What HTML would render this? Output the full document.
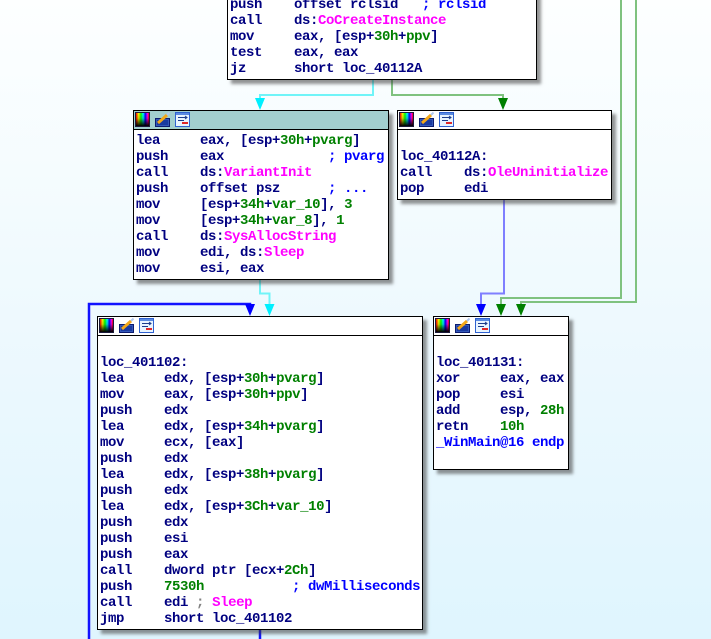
<!DOCTYPE html>
<html><head><meta charset="utf-8">
<style>
html,body{margin:0;padding:0;}
body{width:711px;height:639px;overflow:hidden;position:relative;
 background:linear-gradient(to bottom,#fdffff 0%,#eef9fe 50%,#dff5fe 100%);
 font-family:"Liberation Mono","DejaVu Sans Mono",monospace;}
.blk{position:absolute;box-sizing:border-box;border:1px solid #000;background:#fff;
 box-shadow:4px 4px 3px rgba(60,60,60,0.55);z-index:2;}
.hdr{position:absolute;left:0;top:0;right:0;height:18px;border-bottom:1px solid #000;background:#fff;}
.hdr.sel{background:#a2cfcf;}
.ic{position:absolute;top:1px;width:15px;height:15px;}
.i1{left:1px;box-sizing:border-box;border:1px solid #1a1a3a;
 background:linear-gradient(to bottom,rgba(0,0,0,0) 0%,rgba(0,0,0,0.15) 40%,#000 100%),
 linear-gradient(to right,#f00,#ff0 20%,#0f0 38%,#0ff 55%,#00f 72%,#f0f 88%,#f00);}
.i2{left:21px;}
.i3{left:41px;}
pre{position:absolute;left:2px;margin:0;font-family:"Liberation Mono","DejaVu Sans Mono",monospace;
 font-weight:bold;font-size:14px;letter-spacing:-0.4px;line-height:16px;color:#000080;white-space:pre;}
.g{color:#008000}.m{color:#ff00ff}.c{color:#0000ff}.gr{color:#808080}
svg.edges{position:absolute;left:0;top:0;z-index:1;}
</style></head><body>

<svg class="edges" width="711" height="639" viewBox="0 0 711 639">
 <polyline points="373,80 373,95 260,95 260,100" fill="none" stroke="#70f4f8" stroke-width="2"/>
 <polygon points="255,98 265,98 260,110" fill="#00f0ff"/>
 <polyline points="392,80 392,95 503,95 503,100" fill="none" stroke="#7fc27f" stroke-width="2"/>
 <polygon points="498,98 508,98 503,110" fill="#008000"/>
 <polyline points="260,280 260,293.5 269.5,293.5 269.5,306" fill="none" stroke="#70f4f8" stroke-width="2"/>
 <polygon points="264.5,304 274.5,304 269.5,316" fill="#00f0ff"/>
 <polyline points="260,630 260,645" fill="none" stroke="#1212ff" stroke-width="2.5"/>
 <polyline points="89,645 89,304 250,304 250,306" fill="none" stroke="#1212ff" stroke-width="2.5"/>
 <polygon points="245,304 255,304 250,316" fill="#0000ff"/>
 <polyline points="504,200 504,293.5 481,293.5 481,306" fill="none" stroke="#7f7fff" stroke-width="2"/>
 <polygon points="476,304 486,304 481,316" fill="#0000ff"/>
 <polyline points="621,-5 621,298 501,298 501,306" fill="none" stroke="#7fc27f" stroke-width="2"/>
 <polygon points="496,304 506,304 501,316" fill="#008000"/>
 <polyline points="636,-5 636,302 521,302 521,306" fill="none" stroke="#7fc27f" stroke-width="2"/>
 <polygon points="516,304 526,304 521,316" fill="#008000"/>
</svg>

<!-- B1 -->
<div class="blk" style="left:227px;top:-40px;width:310px;height:120px;">
<pre style="top:36px;">push    offset rclsid   <span class="c">; rclsid</span>
call    ds:<span class="m">CoCreateInstance</span>
mov     eax, [esp+<span class="g">30h</span>+<span class="g">ppv</span>]
test    eax, eax
jz      short loc_40112A</pre>
</div>

<!-- B2 -->
<div class="blk" style="left:133px;top:110px;width:256px;height:170px;">
<div class="hdr sel">
 <div class="ic i1"></div>
 <svg class="ic i2" width="15" height="15" viewBox="0 0 15 15"><rect x="0.5" y="6.5" width="14" height="8" fill="#3458b8" stroke="#0c1c70"/><rect x="2" y="8" width="11" height="5" fill="#1a3aa0"/><line x1="3" y1="11" x2="12" y2="3" stroke="#f4a818" stroke-width="3"/><line x1="12" y1="3" x2="14.5" y2="0.5" stroke="#b0c8f0" stroke-width="2"/></svg>
 <svg class="ic i3" width="15" height="15" viewBox="0 0 15 15"><rect x="0.5" y="0.5" width="14" height="14" fill="#e8f4ff" stroke="#2f62d0"/><rect x="1" y="1" width="13" height="2" fill="#5a8ae0"/><path d="M3 5.5H12M10 4L12 5.5 10 7M3 8.5H9" stroke="#1c3c8c" fill="none"/><rect x="7" y="10" width="6" height="2" fill="#e02828"/></svg>
</div>
<pre style="top:22px;">lea     eax, [esp+<span class="g">30h</span>+<span class="g">pvarg</span>]
push    eax             <span class="c">; pvarg</span>
call    ds:<span class="m">VariantInit</span>
push    offset psz      <span class="c">; ...</span>
mov     [esp+<span class="g">34h</span>+<span class="g">var_10</span>], <span class="g">3</span>
mov     [esp+<span class="g">34h</span>+<span class="g">var_8</span>], <span class="g">1</span>
call    ds:<span class="m">SysAllocString</span>
mov     edi, ds:<span class="m">Sleep</span>
mov     esi, eax</pre>
</div>

<!-- B3 -->
<div class="blk" style="left:397px;top:110px;width:215px;height:90px;">
<div class="hdr">
 <div class="ic i1"></div>
 <svg class="ic i2" width="15" height="15" viewBox="0 0 15 15"><rect x="0.5" y="6.5" width="14" height="8" fill="#3458b8" stroke="#0c1c70"/><rect x="2" y="8" width="11" height="5" fill="#1a3aa0"/><line x1="3" y1="11" x2="12" y2="3" stroke="#f4a818" stroke-width="3"/><line x1="12" y1="3" x2="14.5" y2="0.5" stroke="#b0c8f0" stroke-width="2"/></svg>
 <svg class="ic i3" width="15" height="15" viewBox="0 0 15 15"><rect x="0.5" y="0.5" width="14" height="14" fill="#e8f4ff" stroke="#2f62d0"/><rect x="1" y="1" width="13" height="2" fill="#5a8ae0"/><path d="M3 5.5H12M10 4L12 5.5 10 7M3 8.5H9" stroke="#1c3c8c" fill="none"/><rect x="7" y="10" width="6" height="2" fill="#e02828"/></svg>
</div>
<pre style="top:38px;">loc_40112A:
call    ds:<span class="m">OleUninitialize</span>
pop     edi</pre>
</div>

<!-- B4 -->
<div class="blk" style="left:97px;top:316px;width:326px;height:314px;">
<div class="hdr">
 <div class="ic i1"></div>
 <svg class="ic i2" width="15" height="15" viewBox="0 0 15 15"><rect x="0.5" y="6.5" width="14" height="8" fill="#3458b8" stroke="#0c1c70"/><rect x="2" y="8" width="11" height="5" fill="#1a3aa0"/><line x1="3" y1="11" x2="12" y2="3" stroke="#f4a818" stroke-width="3"/><line x1="12" y1="3" x2="14.5" y2="0.5" stroke="#b0c8f0" stroke-width="2"/></svg>
 <svg class="ic i3" width="15" height="15" viewBox="0 0 15 15"><rect x="0.5" y="0.5" width="14" height="14" fill="#e8f4ff" stroke="#2f62d0"/><rect x="1" y="1" width="13" height="2" fill="#5a8ae0"/><path d="M3 5.5H12M10 4L12 5.5 10 7M3 8.5H9" stroke="#1c3c8c" fill="none"/><rect x="7" y="10" width="6" height="2" fill="#e02828"/></svg>
</div>
<pre style="top:38px;">loc_401102:
lea     edx, [esp+<span class="g">30h</span>+<span class="g">pvarg</span>]
mov     eax, [esp+<span class="g">30h</span>+<span class="g">ppv</span>]
push    edx
lea     edx, [esp+<span class="g">34h</span>+<span class="g">pvarg</span>]
mov     ecx, [eax]
push    edx
lea     edx, [esp+<span class="g">38h</span>+<span class="g">pvarg</span>]
push    edx
lea     edx, [esp+<span class="g">3Ch</span>+<span class="g">var_10</span>]
push    edx
push    esi
push    eax
call    dword ptr [ecx+<span class="g">2Ch</span>]
push    <span class="g">7530h</span>           <span class="c">; dwMilliseconds</span>
call    edi <span class="gr">;</span> <span class="m">Sleep</span>
jmp     short loc_401102</pre>
</div>

<!-- B5 -->
<div class="blk" style="left:433px;top:316px;width:136px;height:154px;">
<div class="hdr">
 <div class="ic i1"></div>
 <svg class="ic i2" width="15" height="15" viewBox="0 0 15 15"><rect x="0.5" y="6.5" width="14" height="8" fill="#3458b8" stroke="#0c1c70"/><rect x="2" y="8" width="11" height="5" fill="#1a3aa0"/><line x1="3" y1="11" x2="12" y2="3" stroke="#f4a818" stroke-width="3"/><line x1="12" y1="3" x2="14.5" y2="0.5" stroke="#b0c8f0" stroke-width="2"/></svg>
 <svg class="ic i3" width="15" height="15" viewBox="0 0 15 15"><rect x="0.5" y="0.5" width="14" height="14" fill="#e8f4ff" stroke="#2f62d0"/><rect x="1" y="1" width="13" height="2" fill="#5a8ae0"/><path d="M3 5.5H12M10 4L12 5.5 10 7M3 8.5H9" stroke="#1c3c8c" fill="none"/><rect x="7" y="10" width="6" height="2" fill="#e02828"/></svg>
</div>
<pre style="top:38px;">loc_401131:
xor     eax, eax
pop     esi
add     esp, <span class="g">28h</span>
retn    <span class="g">10h</span>
<span class="c">_WinMain@16 endp</span></pre>
</div>

</body></html>
